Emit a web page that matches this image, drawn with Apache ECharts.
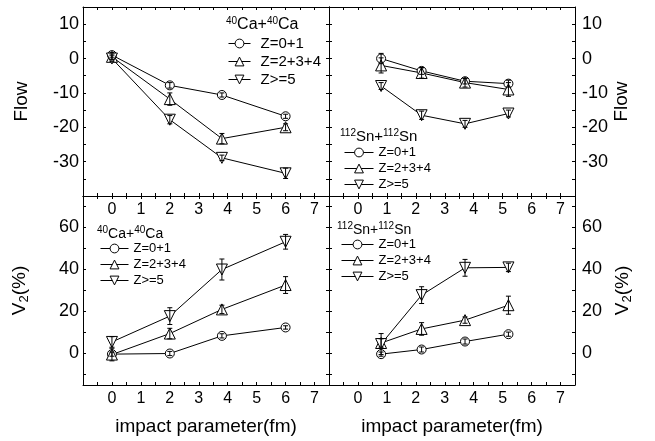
<!DOCTYPE html>
<html>
<head>
<meta charset="utf-8">
<script src="https://cdn.jsdelivr.net/npm/echarts@6.0.0/dist/echarts.min.js"></script>
<style>
  html, body { margin: 0; padding: 0; background: #fff; }
  #chart { width: 655px; height: 441px; }
</style>
</head>
<body>
<div id="chart"></div>
<script>
// impact parameters (fm)
var xCa = [0, 2, 3.8, 6];
var xSn = [0.8, 2.2, 3.7, 5.2];

var seriesNames = ['Z=0+1', 'Z=2+3+4', 'Z>=5'];

// flow, 40Ca+40Ca
var flowCa01 = [1, -7.8, -10.6, -16.8];
var flowCa234 = [0.5, -11.8, -23.3, -20];
var flowCa5 = [0, -17.8, -28.9, -33.4];
var flowCaErr01 = [0.8, 0.8, 0.6, 0.6];
var flowCaErr234 = [0.8, 1.8, 1.5, 1];
var flowCaErr5 = [0.8, 1.2, 0.8, 1.5];

// flow, 112Sn+112Sn
var flowSn01 = [0, -3.6, -6.6, -7.3];
var flowSn234 = [-2, -4.2, -7, -9];
var flowSn5 = [-8, -16.5, -19, -16];
var flowSnErr01 = [1.5, 1, 0.8, 1];
var flowSnErr234 = [2.2, 1.5, 1.3, 2];
var flowSnErr5 = [1, 1.2, 1, 1];

// V2 (%), 40Ca+40Ca
var v2Ca01 = [-0.3, 0, 8.4, 12.4];
var v2Ca234 = [-0.5, 9.5, 21, 32.6];
var v2Ca5 = [5.5, 17.8, 40, 53.2];
var v2CaErr01 = [1, 1, 1, 0.8];
var v2CaErr234 = [3, 2.5, 2, 4];
var v2CaErr5 = [2.5, 4, 5, 3.5];

// V2 (%), 112Sn+112Sn
var v2Sn01 = [-0.3, 1.9, 5.7, 9.2];
var v2Sn234 = [5, 11.7, 15.9, 23];
var v2Sn5 = [4.5, 27.8, 40.8, 41];
var v2SnErr01 = [1, 1.2, 1.2, 1];
var v2SnErr234 = [2, 3, 1.5, 4.3];
var v2SnErr5 = [5, 4, 4, 2];

// ticks
var xLabels = [0, 1, 2, 3, 4, 5, 6, 7];
var xTicks = [-0.5, 0, 0.5, 1, 1.5, 2, 2.5, 3, 3.5, 4, 4.5, 5, 5.5, 6, 6.5, 7];
var flowLabels = [-30, -20, -10, 0, 10];
var flowTicks = [-35, -30, -25, -20, -15, -10, -5, 0, 5, 10];
var v2Labels = [0, 20, 40, 60];
var v2Ticks = [-10, 0, 10, 20, 30, 40, 50, 60, 70];

var FONT = 'Liberation Sans';
var chart = echarts.init(document.getElementById('chart'));

var grids = [
    { left: 83, top: 7, width: 246, height: 189 },
    { left: 329, top: 7, width: 246, height: 189 },
    { left: 83, top: 196, width: 246, height: 189 },
    { left: 329, top: 196, width: 246, height: 189 }
];

var frameLine = { onZero: false, lineStyle: { color: '#000', width: 1 } };

function xAxes(g, withName) {
    var main = {
        gridIndex: g, type: 'value', min: -1, max: 7.5, position: 'bottom',
        axisLine: frameLine,
        axisTick: { inside: true, length: 3, customValues: xTicks, lineStyle: { color: '#000' } },
        axisLabel: { customValues: xLabels, fontSize: 16, color: '#000', fontFamily: FONT, margin: 6 },
        splitLine: { show: false }
    };
    if (withName) {
        main.name = 'impact parameter(fm)';
        main.nameLocation = 'middle';
        main.nameGap = 32;
        main.nameTextStyle = { fontSize: 19, color: '#000', fontFamily: FONT };
    }
    var top = {
        gridIndex: g, type: 'value', min: -1, max: 7.5, position: 'top',
        axisLine: frameLine,
        axisTick: { inside: true, length: 3, customValues: xTicks, lineStyle: { color: '#000' } },
        axisLabel: { show: false },
        splitLine: { show: false }
    };
    return [main, top];
}

function yAxes(g, isFlow, labelSide) {
    var min = isFlow ? -40 : -15, max = isFlow ? 15 : 75;
    var labels = isFlow ? flowLabels : v2Labels;
    var ticks = isFlow ? flowTicks : v2Ticks;
    var name = isFlow ? 'Flow' : '{v|V}{sub|2}{v|(%)}';
    var res = [];
    ['left', 'right'].forEach(function (side) {
        var ax = {
            gridIndex: g, type: 'value', min: min, max: max, position: side,
            axisLine: frameLine,
            axisTick: { inside: true, length: 3, customValues: ticks, lineStyle: { color: '#000' } },
            axisLabel: { show: false },
            splitLine: { show: false }
        };
        if (side === labelSide) {
            ax.axisLabel = { customValues: labels, fontSize: 18, color: '#000', fontFamily: FONT,
                margin: side === 'left' ? 4 : 7 };
            ax.name = name;
            ax.nameLocation = 'middle';
            ax.nameRotate = 90;
            ax.nameGap = side === 'left' ? 52 : 37;
            ax.nameTextStyle = {
                fontSize: 19, color: '#000', fontFamily: FONT,
                rich: {
                    v: { fontSize: 19, color: '#000', fontFamily: FONT },
                    sub: { fontSize: 13, color: '#000', fontFamily: FONT, padding: [9, 0, 0, 0] }
                }
            };
        }
        res.push(ax);
    });
    return res;
}

var xAxisList = [].concat(xAxes(0, false), xAxes(1, false), xAxes(2, true), xAxes(3, true));
var yAxisList = [].concat(yAxes(0, true, 'left'), yAxes(1, true, 'right'),
    yAxes(2, false, 'left'), yAxes(3, false, 'right'));

var symbols = [
    { symbol: 'circle', size: 9, rotate: 0 },
    { symbol: 'triangle', size: 11, rotate: 0 },
    { symbol: 'triangle', size: 11, rotate: 180 }
];

function pts(xs, ys) {
    return xs.map(function (x, i) { return [x, ys[i]]; });
}

function lineSeries(g, k, xs, ys) {
    return {
        name: seriesNames[k], type: 'line',
        xAxisIndex: 2 * g, yAxisIndex: 2 * g + (g % 2),
        data: pts(xs, ys),
        symbol: symbols[k].symbol, symbolSize: symbols[k].size, symbolRotate: symbols[k].rotate,
        showAllSymbol: true,
        lineStyle: { color: '#000', width: 1 },
        itemStyle: { color: '#fff', borderColor: '#000', borderWidth: 1 },
        z: 4, silent: true, animation: false
    };
}

// vertical error bars with small caps
function errSeries(g, xs, ys, errs) {
    return {
        type: 'custom',
        xAxisIndex: 2 * g, yAxisIndex: 2 * g + (g % 2),
        data: xs.map(function (x, i) { return [x, ys[i] - errs[i], ys[i] + errs[i]]; }),
        renderItem: function (params, api) {
            var lo = api.coord([api.value(0), api.value(1)]);
            var hi = api.coord([api.value(0), api.value(2)]);
            var w = 2.5;
            var st = { stroke: '#000', lineWidth: 1 };
            return {
                type: 'group',
                children: [
                    { type: 'line', shape: { x1: lo[0], y1: lo[1], x2: hi[0], y2: hi[1] }, style: st },
                    { type: 'line', shape: { x1: lo[0] - w, y1: lo[1], x2: lo[0] + w, y2: lo[1] }, style: st },
                    { type: 'line', shape: { x1: hi[0] - w, y1: hi[1], x2: hi[0] + w, y2: hi[1] }, style: st }
                ]
            };
        },
        z: 5, silent: true, animation: false
    };
}

var panels = [
    { g: 0, xs: xCa, ys: [flowCa01, flowCa234, flowCa5], es: [flowCaErr01, flowCaErr234, flowCaErr5] },
    { g: 1, xs: xSn, ys: [flowSn01, flowSn234, flowSn5], es: [flowSnErr01, flowSnErr234, flowSnErr5] },
    { g: 2, xs: xCa, ys: [v2Ca01, v2Ca234, v2Ca5], es: [v2CaErr01, v2CaErr234, v2CaErr5] },
    { g: 3, xs: xSn, ys: [v2Sn01, v2Sn234, v2Sn5], es: [v2SnErr01, v2SnErr234, v2SnErr5] }
];

var series = [];
panels.forEach(function (p) {
    for (var k = 0; k < 3; k++) {
        series.push(lineSeries(p.g, k, p.xs, p.ys[k]));
        series.push(errSeries(p.g, p.xs, p.ys[k], p.es[k]));
    }
});

// legend boxes, one per panel
function legendAt(left, top, itemWidth, fontSize, textPad) {
    return {
        left: left, top: top, orient: 'vertical', padding: 0,
        itemWidth: itemWidth, itemHeight: 11, itemGap: 3,
        data: seriesNames, selectedMode: false,
        lineStyle: { color: '#000', width: 1 },
        itemStyle: { color: '#fff', borderColor: '#000', borderWidth: 1 },
        textStyle: { fontSize: fontSize, lineHeight: 13, color: '#000', fontFamily: FONT, padding: [0, 0, 0, textPad] }
    };
}

function reactionTitle(text, left, top, fontSize) {
    return {
        text: text, left: left, top: top, padding: 0,
        textStyle: {
            fontWeight: 'normal',
            rich: {
                s: { fontSize: 10, color: '#000', fontFamily: FONT, fontWeight: 'normal', padding: [0, 0, 8, 0] },
                n: { fontSize: fontSize, color: '#000', fontFamily: FONT, fontWeight: 'normal' }
            }
        }
    };
}

var option = {
    backgroundColor: '#fff',
    animation: false,
    grid: grids,
    xAxis: xAxisList,
    yAxis: yAxisList,
    title: [
        reactionTitle('{s|40}{n|Ca+}{s|40}{n|Ca}', 226, 16, 16),
        reactionTitle('{s|112}{n|Sn+}{s|112}{n|Sn}', 340, 128, 15),
        reactionTitle('{s|40}{n|Ca+}{s|40}{n|Ca}', 97, 225, 14),
        reactionTitle('{s|112}{n|Sn+}{s|112}{n|Sn}', 337, 221, 14)
    ],
    legend: [
        legendAt(228, 36, 22, 15, 5),
        legendAt(344, 146, 29, 13, 0),
        legendAt(100, 242, 28, 13, 0),
        legendAt(341, 238, 32, 13, 0)
    ],
    series: series
};

chart.setOption(option);
</script>
</body>
</html>
